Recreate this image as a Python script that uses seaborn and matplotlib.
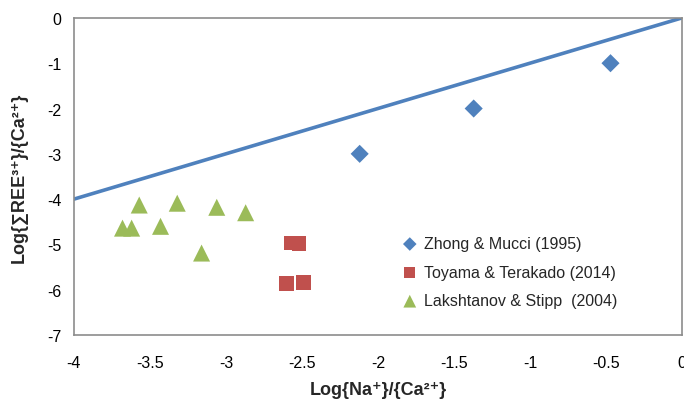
import pandas as pd
import numpy as np
import matplotlib
matplotlib.use("Agg")
import matplotlib.pyplot as plt
import seaborn as sns

# data
zhong_x = [-2.12, -1.37, -0.47]
zhong_y = [-3.0, -2.0, -1.0]

toyama_x = [-2.57, -2.52, -2.60, -2.49]
toyama_y = [-4.97, -4.98, -5.86, -5.84]

lak_x = [-3.57, -3.32, -3.06, -2.87, -3.68, -3.62, -3.43, -3.16]
lak_y = [-4.13, -4.09, -4.18, -4.30, -4.64, -4.64, -4.60, -5.19]

line_x = [-4, 0]
line_y = [-4, 0]

series_names = ["Zhong & Mucci (1995)", "Toyama & Terakado (2014)", "Lakshtanov & Stipp  (2004)"]
colors = ["#4F81BD", "#C0504D", "#9BBB59"]
markers = ["D", "s", "^"]
marker_sizes = [85, 110, 150]

sns.set_style("white")
plt.rcParams['font.family'] = ['Liberation Sans', 'DejaVu Sans']

fig = plt.figure(figsize=(6.84, 4.02), dpi=100)
ax = fig.add_axes([0.108, 0.164, 0.889, 0.789])

sns.lineplot(x=line_x, y=line_y, ax=ax, color="#4F81BD", linewidth=2.6, legend=False)

for name, xs, ys, c, m, s in zip(series_names, [zhong_x, toyama_x, lak_x],
                                 [zhong_y, toyama_y, lak_y], colors, markers, marker_sizes):
    sns.scatterplot(x=xs, y=ys, color=c, marker=m, s=s, edgecolor="none",
                    label=name, ax=ax)

ax.set_xlim(-4, 0)
ax.set_ylim(-7, 0)
ax.set_xticks(np.arange(-4, 0.01, 0.5))
ax.set_xticklabels(["-4", "-3.5", "-3", "-2.5", "-2", "-1.5", "-1", "-0.5", "0"])
ax.set_yticks(np.arange(-7, 0.01, 1))
ax.set_yticklabels(["-7", "-6", "-5", "-4", "-3", "-2", "-1", "0"])

for sp in ax.spines.values():
    sp.set_color("#8C8C8C")
    sp.set_linewidth(1.2)
ax.tick_params(axis="both", direction="out", length=5, width=1, color="#8C8C8C",
               labelsize=11.5, labelcolor="black", pad=4)
ax.tick_params(axis="x", pad=9)

ax.set_xlabel("Log{Na\u207a}/{Ca\u00b2\u207a}", fontsize=13, fontweight="bold", labelpad=8)
ax.set_ylabel("Log{\u2211REE\u00b3\u207a}/{Ca\u00b2\u207a}", fontsize=13, fontweight="bold", labelpad=14)

leg = ax.legend(loc="upper left", bbox_to_anchor=(0.513, 0.357), frameon=False,
                fontsize=11.5, handletextpad=0.3, labelspacing=0.85, markerscale=0.75,
                handlelength=1.2)

fig.savefig("out.png", dpi=100)
